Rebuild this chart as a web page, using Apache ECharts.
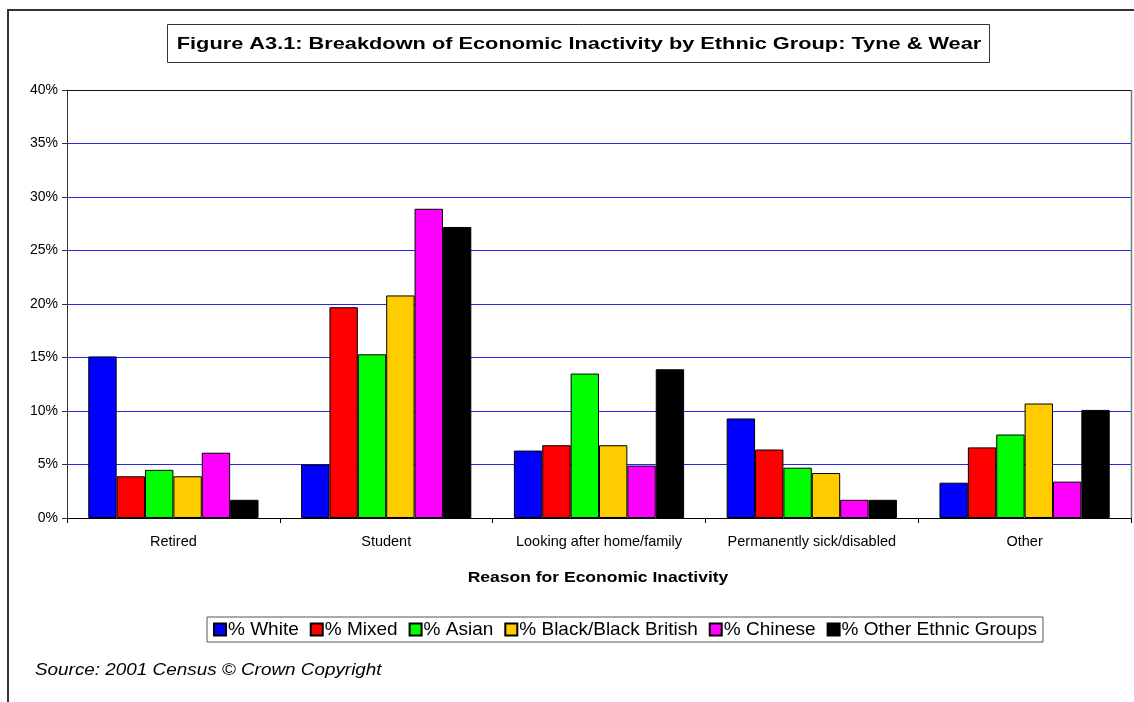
<!DOCTYPE html>
<html>
<head>
<meta charset="utf-8">
<script src="https://cdn.jsdelivr.net/npm/echarts@6/dist/echarts.min.js"></script>
<style>
  html, body { margin: 0; padding: 0; background: #fff; }
  #chart { width: 1134px; height: 702px; }
</style>
</head>
<body>
<div id="chart"></div>
<script>
// Reasons for economic inactivity (x categories)
const categories = ['Retired', 'Student', 'Looking after home/family', 'Permanently sick/disabled', 'Other'];

// Share of economically inactive people, in percent, per ethnic group
const white      = [15.1,  5.0,  6.3, 9.3,  3.3];
const mixed      = [ 3.9, 19.7,  6.8, 6.4,  6.6];
const asian      = [ 4.5, 15.3, 13.5, 4.7,  7.8];
const blackBrit  = [ 3.9, 20.8,  6.8, 4.2, 10.7];
const chinese    = [ 6.1, 28.9,  4.9, 1.7,  3.4];
const otherGroup = [ 1.7, 27.2, 13.9, 1.7, 10.1];

const seriesNames = ['% White', '% Mixed', '% Asian', '% Black/Black British', '% Chinese', '% Other Ethnic Groups'];
const seriesData = [white, mixed, asian, blackBrit, chinese, otherGroup];
const seriesColors = ['#0000ff', '#ff0000', '#00ff00', '#ffcc00', '#ff00ff', '#000000'];

const yTicks = { min: 0, max: 40, interval: 5 };

const titleText = 'Figure A3.1: Breakdown of Economic Inactivity by Ethnic Group: Tyne & Wear';
const xAxisTitle = 'Reason for Economic Inactivity';
const sourceText = 'Source: 2001 Census © Crown Copyright';

const font = '"Liberation Sans", Arial, sans-serif';

const chart = echarts.init(document.getElementById('chart'), null, { renderer: 'canvas' });

chart.setOption({
  animation: false,
  backgroundColor: '#ffffff',
  textStyle: { fontFamily: font, color: '#000' },
  legend: {
    data: seriesNames,
    left: 207,
    top: 617,
    padding: [3, 6, 3, 6],
    borderColor: '#555',
    borderWidth: 1,
    itemGap: 11,
    itemWidth: 12,
    itemHeight: 12,
    icon: 'rect',
    textStyle: { fontFamily: font, fontSize: 19, color: '#000', padding: [0, 0, 0, -3] }
  },
  grid: {
    left: 67,
    right: 3,
    top: 90,
    bottom: 184,
    show: false,
    containLabel: false
  },
  xAxis: {
    type: 'category',
    data: categories,
    axisLine: { lineStyle: { color: '#000', width: 1 } },
    axisTick: { show: true, interval: 0, length: 5, lineStyle: { color: '#000' } },
    axisLabel: { interval: 0, fontFamily: font, fontSize: 14.5, color: '#000', margin: 16 },
    splitLine: { show: false }
  },
  yAxis: {
    type: 'value',
    min: yTicks.min,
    max: yTicks.max,
    interval: yTicks.interval,
    axisLine: { show: true, lineStyle: { color: '#333', width: 1 } },
    axisTick: { show: true, length: 5, lineStyle: { color: '#333' } },
    axisLabel: { fontFamily: font, fontSize: 14, color: '#000', margin: 9, formatter: '{value}%' },
    splitLine: { show: true, lineStyle: { color: '#2626e8', width: 1 } }
  },
  series: seriesNames.map((name, i) => ({
    name: name,
    type: 'bar',
    data: seriesData[i],
    barGap: '0%',
    barCategoryGap: '20%',
    itemStyle: { color: seriesColors[i], borderColor: '#000', borderWidth: 1 }
  }))
});

// Plot-area frame and the wide, stretched text blocks (title, axis title, source)
const yTop = chart.convertToPixel({ yAxisIndex: 0 }, yTicks.max);
const yBottom = chart.convertToPixel({ yAxisIndex: 0 }, yTicks.min);
const plotLeft = 67;
const plotRight = 1134 - 3;

chart.setOption({
  graphic: [
    // outer chart frame
    {
      type: 'rect',
      shape: { x: 8, y: 10, width: 1140, height: 700 },
      style: { fill: 'none', stroke: '#333', lineWidth: 2 },
      silent: true,
      z: 100
    },
    // plot-area top and right edges
    {
      type: 'line',
      shape: { x1: plotLeft, y1: Math.round(yTop) + 0.5, x2: plotRight, y2: Math.round(yTop) + 0.5 },
      style: { stroke: '#111', lineWidth: 1 },
      silent: true,
      z: 50
    },
    {
      type: 'line',
      shape: { x1: plotRight + 0.5, y1: yTop, x2: plotRight + 0.5, y2: yBottom },
      style: { stroke: '#777', lineWidth: 1.5 },
      silent: true,
      z: 50
    },
    // boxed title
    {
      type: 'rect',
      shape: { x: 167.5, y: 24.5, width: 822, height: 38 },
      style: { fill: '#fff', stroke: '#333', lineWidth: 1 },
      silent: true,
      z: 60
    },
    {
      type: 'text',
      x: 579,
      y: 44,
      scaleX: 1.28,
      style: {
        text: titleText,
        font: 'bold 17px ' + font,
        fill: '#000',
        textAlign: 'center',
        textVerticalAlign: 'middle'
      },
      silent: true,
      z: 61
    },
    // x-axis title
    {
      type: 'text',
      x: 598,
      y: 578,
      scaleX: 1.25,
      style: {
        text: xAxisTitle,
        font: 'bold 14px ' + font,
        fill: '#000',
        textAlign: 'center',
        textVerticalAlign: 'middle'
      },
      silent: true
    },
    // source note
    {
      type: 'text',
      x: 35,
      y: 671,
      scaleX: 1.18,
      style: {
        text: sourceText,
        font: 'italic 16px ' + font,
        fill: '#000',
        textAlign: 'left',
        textVerticalAlign: 'middle'
      },
      silent: true
    }
  ]
});
</script>
</body>
</html>
